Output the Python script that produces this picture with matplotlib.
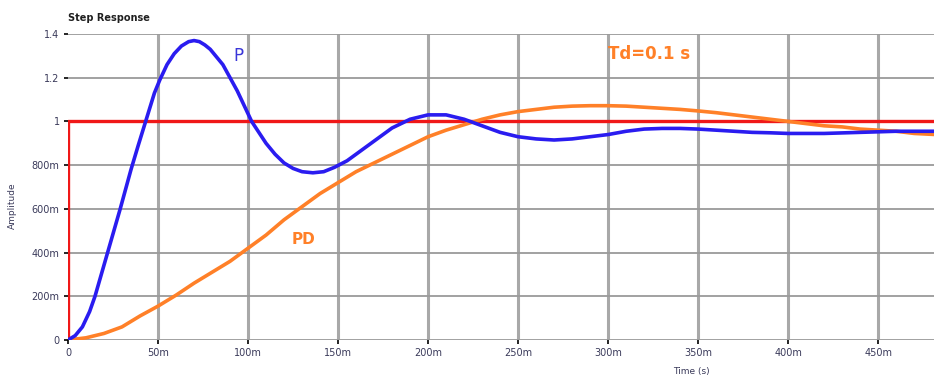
import matplotlib.pyplot as plt
from matplotlib.ticker import FixedLocator

# step response samples, time in ms
t_p = [0, 4, 8, 12, 15, 22, 29, 35, 39, 42, 45, 48, 51, 55, 59, 63, 67, 70, 73, 76,
       79, 82, 86, 90, 94, 98, 102, 106, 110, 115, 120, 125, 130, 136, 142, 148, 155,
       160, 170, 180, 190, 200, 210, 220, 230, 240, 250, 260, 270, 280, 290, 300, 310,
       320, 330, 340, 350, 360, 370, 380, 390, 400, 420, 440, 460, 482]
y_p = [0, 0.02, 0.06, 0.13, 0.2, 0.4, 0.6, 0.78, 0.89, 0.97, 1.05, 1.13, 1.19, 1.26,
       1.31, 1.345, 1.365, 1.37, 1.365, 1.35, 1.33, 1.30, 1.26, 1.2, 1.14, 1.07, 1.0,
       0.95, 0.9, 0.85, 0.81, 0.785, 0.77, 0.765, 0.77, 0.79, 0.82, 0.85, 0.91, 0.97,
       1.01, 1.03, 1.03, 1.01, 0.98, 0.95, 0.93, 0.92, 0.915, 0.92, 0.93, 0.94, 0.955,
       0.965, 0.968, 0.968, 0.965, 0.96, 0.955, 0.95, 0.948, 0.945, 0.945, 0.95, 0.955,
       0.955]

t_pd = [0, 10, 20, 30, 40, 50, 60, 70, 80, 90, 100, 110, 120, 130, 140, 150, 160, 170,
        180, 190, 200, 210, 220, 230, 240, 250, 260, 270, 280, 290, 300, 310, 320, 330,
        340, 350, 360, 370, 380, 390, 400, 410, 420, 430, 440, 450, 460, 470, 482]
y_pd = [0, 0.01, 0.03, 0.06, 0.11, 0.155, 0.205, 0.26, 0.31, 0.36, 0.42, 0.48, 0.55,
        0.61, 0.67, 0.72, 0.77, 0.81, 0.85, 0.89, 0.93, 0.96, 0.985, 1.01, 1.03, 1.045,
        1.055, 1.065, 1.07, 1.072, 1.072, 1.07, 1.065, 1.06, 1.055, 1.048, 1.04, 1.03,
        1.02, 1.01, 1.0, 0.99, 0.98, 0.975, 0.965, 0.96, 0.955, 0.945, 0.94]

# reference step input
t_step = [0, 0, 482]
y_step = [0, 1, 1]

x_ticks = [0, 50, 100, 150, 200, 250, 300, 350, 400, 450]
x_labels = ['0', '50m', '100m', '150m', '200m', '250m', '300m', '350m', '400m', '450m']
y_ticks = [0, 0.2, 0.4, 0.6, 0.8, 1.0, 1.2, 1.4]
y_labels = ['0', '200m', '400m', '600m', '800m', '1', '1.2', '1.4']

fig = plt.figure(figsize=(9.34, 3.76), dpi=100)
ax = fig.add_axes([68 / 934, 1 - 340 / 376, 1 - 68 / 934, 306 / 376])

for x in x_ticks[1:]:
    ax.axvline(x, color='#a8a8a8', lw=2.2, zorder=0)
for y in y_ticks:
    ax.axhline(y, color='#9a9a9a', lw=1.3, zorder=0)

ax.plot(t_step, y_step, color='#f01818', lw=2.4, zorder=3)
ax.plot(t_pd, y_pd, color='#ff8028', lw=2.6, zorder=4)
ax.plot(t_p, y_p, color='#2a1cf0', lw=2.6, zorder=5)

ax.text(92, 1.30, 'P', color='#3a36d8', fontsize=12, ha='left', va='center')
ax.text(124, 0.46, 'PD', color='#ff8028', fontsize=11, fontweight='bold',
        ha='left', va='center')
ax.text(300, 1.31, 'Td=0.1 s', color='#ff8028', fontsize=12, fontweight='bold',
        ha='left', va='center')

ax.set_xlim(0, 481)
ax.set_ylim(0, 1.4)
ax.xaxis.set_major_locator(FixedLocator(x_ticks))
ax.yaxis.set_major_locator(FixedLocator(y_ticks))
ax.set_xticklabels(x_labels)
ax.set_yticklabels(y_labels)
ax.tick_params(axis='both', length=3, width=1.2, color='black', labelsize=7,
               labelcolor='#3a3a5a', pad=3)
for s in ax.spines.values():
    s.set_visible(False)

ax.set_ylabel('Amplitude', fontsize=6.5, color='#3a3a5a')
ax.yaxis.set_label_coords(-0.059, 0.44)
ax.set_xlabel('Time (s)', fontsize=6.5, color='#3a3a5a', va='top')
ax.xaxis.set_label_coords(0.72, -0.088)

fig.text(68 / 934, 1 - 18 / 376, 'Step Response', fontsize=7, fontweight='bold',
         color='#202020', ha='left', va='center')

fig.savefig('out.png', dpi=100)
